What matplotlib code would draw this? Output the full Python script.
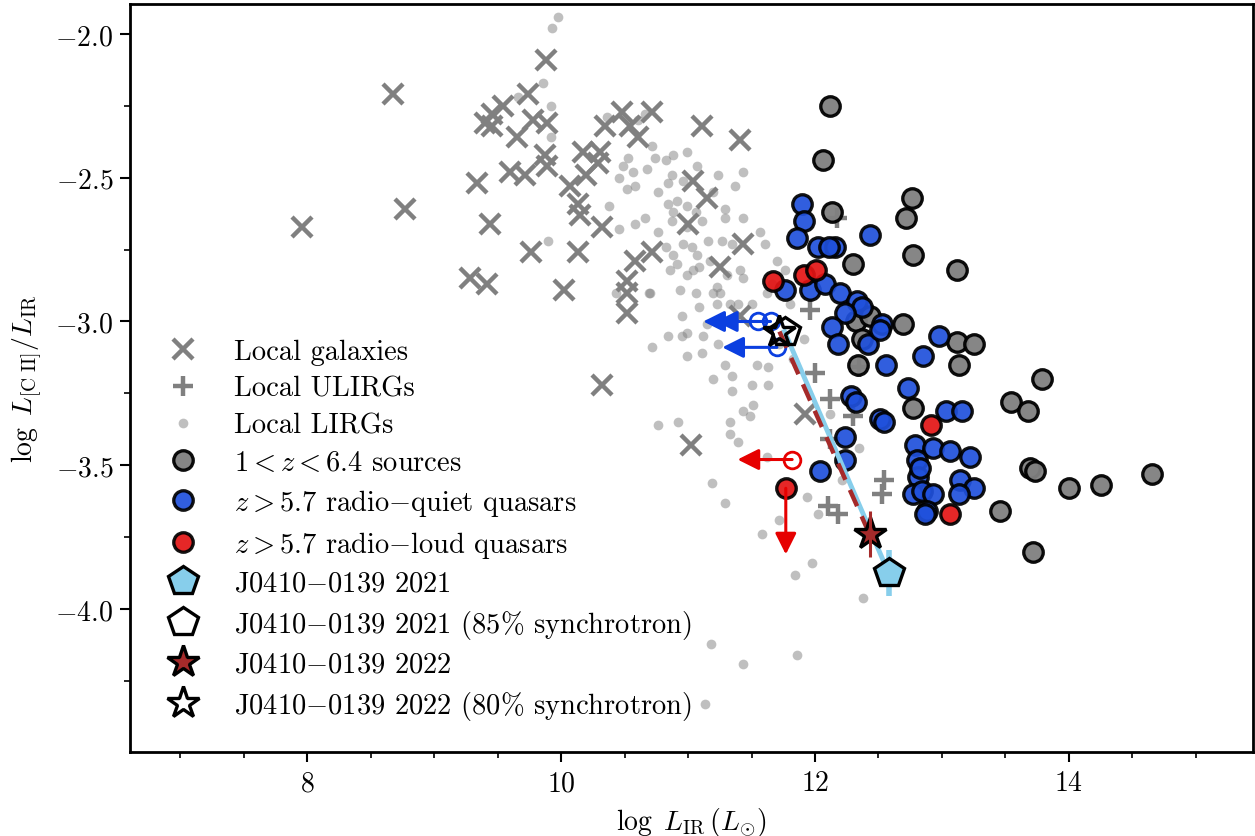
import numpy as np
import matplotlib
matplotlib.use('Agg')
from matplotlib import pyplot as plt
from matplotlib.ticker import MultipleLocator

plt.rcParams['font.family'] = 'serif'
plt.rcParams['font.serif'] = ['cmr10']
plt.rcParams['mathtext.fontset'] = 'cm'
plt.rcParams['axes.formatter.use_mathtext'] = True
plt.rcParams['font.size'] = 18

# local galaxies (x markers)
gal_lir = [8.68, 7.96, 8.77, 9.34, 9.44, 9.28, 9.42, 9.76, 9.88, 9.74, 9.54, 9.46,
           9.40, 9.46, 9.65, 9.78, 9.60, 9.72, 9.87, 9.89, 9.89, 10.17, 10.31, 10.48,
           10.72, 10.35, 10.61, 10.54, 10.20, 10.29, 10.07, 10.13, 10.15, 10.32, 10.13,
           10.02, 11.11, 11.41, 11.04, 11.15, 11.00, 11.43, 10.72, 10.58, 10.52, 10.52,
           10.52, 11.25, 10.32, 11.02, 11.92, 11.41]
gal_ratio = [-2.21, -2.67, -2.61, -2.52, -2.66, -2.85, -2.87, -2.76, -2.09, -2.21, -2.25,
             -2.28, -2.31, -2.32, -2.36, -2.30, -2.48, -2.49, -2.42, -2.46, -2.31, -2.41,
             -2.41, -2.27, -2.27, -2.32, -2.36, -2.32, -2.49, -2.45, -2.53, -2.59, -2.63,
             -2.67, -2.76, -2.89, -2.32, -2.37, -2.51, -2.57, -2.66, -2.73, -2.76, -2.79,
             -2.86, -2.90, -2.97, -2.81, -3.22, -3.43, -3.32, -2.98]

# local ULIRGs (+ markers)
ulirg_lir = [12.17, 11.96, 12.00, 12.12, 12.30, 12.12, 12.54, 12.53, 12.10, 12.18, 12.35]
ulirg_ratio = [-2.64, -2.96, -3.18, -3.27, -3.33, -3.41, -3.55, -3.60, -3.64, -3.67, -3.16]

# local LIRGs (small dots)
lirg_lir = [9.98, 9.93, 9.86, 9.92, 9.92, 9.66, 10.36, 10.61, 10.66, 10.72, 10.74, 10.53,
            10.49, 10.57, 10.46, 10.68, 10.52, 10.58, 10.83, 10.88, 10.99, 11.07, 10.87,
            10.84, 10.96, 11.24, 11.43, 11.37, 11.20, 10.76, 10.38, 10.84, 10.91, 10.99,
            10.88, 11.06, 11.11, 11.29, 11.29, 11.43, 10.66, 10.58, 10.46, 10.76, 10.87,
            10.99, 11.57, 11.61, 11.70, 9.90, 11.16, 11.27, 11.35, 10.96, 11.03, 10.83,
            10.88, 10.91, 11.07, 11.09, 11.17, 10.86, 10.99, 11.04, 11.41, 11.31, 11.43,
            10.94, 11.06, 11.23, 11.25, 10.70, 10.43, 10.69, 11.20, 11.62, 11.33, 11.23,
            11.09, 10.95, 11.39, 11.50, 10.72, 10.84, 10.95, 10.99, 11.12, 11.15, 10.99,
            11.11, 11.24, 11.29, 11.35, 11.54, 11.63, 11.20, 11.50, 11.63, 11.35, 11.51,
            11.43, 11.49, 10.76, 10.92, 11.33, 11.33, 11.39, 11.62, 11.91, 11.83, 11.72,
            11.19, 11.29, 11.72, 11.58, 11.94, 12.02, 11.98, 11.84, 12.38, 11.18, 11.86,
            11.43, 11.13, 12.35, 12.21, 12.12, 11.66, 11.80, 11.76]
lirg_ratio = [-1.94, -1.98, -2.17, -2.25, -2.36, -2.22, -2.29, -2.30, -2.28, -2.39, -2.43,
              -2.43, -2.46, -2.48, -2.50, -2.47, -2.54, -2.53, -2.44, -2.42, -2.41, -2.46,
              -2.49, -2.52, -2.51, -2.49, -2.48, -2.53, -2.55, -2.55, -2.60, -2.59, -2.58,
              -2.60, -2.62, -2.62, -2.65, -2.61, -2.64, -2.64, -2.64, -2.66, -2.68, -2.69,
              -2.65, -2.67, -2.69, -2.73, -2.79, -2.72, -2.72, -2.72, -2.73, -2.73, -2.74,
              -2.74, -2.77, -2.80, -2.77, -2.81, -2.79, -2.82, -2.84, -2.82, -2.82, -2.84,
              -2.85, -2.89, -2.90, -2.88, -2.90, -2.90, -2.90, -2.90, -2.90, -2.90, -2.94,
              -2.94, -2.95, -2.98, -2.94, -2.94, -3.09, -3.05, -3.05, -3.04, -3.05, -3.01,
              -3.12, -3.11, -3.08, -3.15, -3.19, -3.15, -3.16, -3.20, -3.22, -3.22, -3.24,
              -3.29, -3.31, -3.33, -3.36, -3.35, -3.35, -3.39, -3.42, -3.47, -3.06, -3.13,
              -3.08, -3.56, -3.63, -3.69, -3.74, -3.61, -3.67, -3.84, -3.88, -3.96, -4.12,
              -4.16, -4.19, -4.33, -3.44, -3.55, -3.32, -2.87, -2.94, -2.82]

# 1 < z < 6.4 sources
hz_lir = [12.12, 12.06, 12.13, 12.30, 12.32, 12.76, 12.72, 12.77, 13.12, 12.69, 13.12,
          13.25, 13.13, 13.79, 12.77, 13.54, 13.68, 13.69, 13.73, 14.00, 14.25, 14.65,
          13.46, 13.72, 12.34, 12.43, 12.37]
hz_ratio = [-2.25, -2.44, -2.62, -2.80, -3.00, -2.57, -2.64, -2.77, -2.82, -3.01, -3.07,
            -3.08, -3.15, -3.20, -3.30, -3.28, -3.31, -3.51, -3.52, -3.58, -3.57, -3.53,
            -3.66, -3.80, -3.15, -2.98, -3.06]

# z > 5.7 radio-quiet quasars
rq_lir = [11.90, 11.91, 11.86, 12.02, 12.16, 12.11, 12.43, 11.76, 11.96, 12.08, 12.20,
          12.33, 12.37, 12.24, 12.13, 12.53, 12.18, 12.42, 12.51, 12.56, 12.73, 12.28,
          12.32, 12.51, 12.54, 12.24, 12.24, 12.04, 12.98, 12.85, 13.03, 13.16, 12.79,
          12.93, 13.06, 13.22, 12.80, 12.81, 13.14, 13.25, 13.13, 12.77, 12.84, 12.93,
          12.88, 12.87, 12.83]
rq_ratio = [-2.59, -2.65, -2.71, -2.74, -2.74, -2.74, -2.70, -2.89, -2.89, -2.87, -2.90,
            -2.93, -2.95, -2.97, -3.02, -3.01, -3.08, -3.08, -3.03, -3.15, -3.23, -3.26,
            -3.28, -3.34, -3.35, -3.40, -3.48, -3.52, -3.05, -3.12, -3.31, -3.31, -3.43,
            -3.44, -3.45, -3.47, -3.48, -3.54, -3.55, -3.58, -3.60, -3.60, -3.59, -3.60,
            -3.66, -3.67, -3.51]

# z > 5.7 radio-loud quasars
rl_lir = [11.67, 11.91, 12.01, 12.91, 13.06]
rl_ratio = [-2.86, -2.84, -2.82, -3.36, -3.67]

# upper limits in L_IR (open circles)
rq_lim_lir = [11.55, 11.65, 11.70]
rq_lim_ratio = [-3.00, -3.00, -3.09]
rl_lim_lir = [11.82]
rl_lim_ratio = [-3.48]
# radio-loud quasar with upper limit on the ratio
rl_ylim_lir = [11.77]
rl_ylim_ratio = [-3.58]

# J0410-0139
j21_lir, j21_ratio, j21_err = 12.58, -3.875, 0.08
j21s_lir, j21s_ratio = 11.76, -3.035
j22_lir, j22_ratio, j22_err = 12.43, -3.74, 0.08
j22s_lir, j22s_ratio = 11.72, -3.035

blue = '#1f50dc'
red = '#e31414'

fig = plt.figure(figsize=(12.55, 8.37), dpi=100)
ax = fig.add_axes([0.1036, 0.1004, 0.8948, 0.8936])

ax.plot(lirg_lir, lirg_ratio, 'o', color='gray', alpha=0.5, ms=7, mew=0,
        label='Local LIRGs', zorder=1)
ax.plot(gal_lir, gal_ratio, 'x', color='gray', ms=14, mew=3.2,
        label='Local galaxies', zorder=2)
ax.plot(ulirg_lir, ulirg_ratio, '+', color='gray', ms=15, mew=3.2,
        label='Local ULIRGs', zorder=2)
ax.plot(hz_lir, hz_ratio, 'o', mfc='gray', mec='k', ms=14, mew=2.4, alpha=0.95,
        label=r'$1 < z < 6.4$ sources', zorder=3)
ax.plot(rq_lir, rq_ratio, 'o', mfc=blue, mec='k', ms=14, mew=2.4, alpha=0.92,
        label=r'$z > 5.7$ radio$-$quiet quasars', zorder=4)
ax.plot(rl_lir + rl_ylim_lir, rl_ratio + rl_ylim_ratio, 'o', mfc=red, mec='k', ms=14,
        mew=2.4, alpha=0.92, label=r'$z > 5.7$ radio$-$loud quasars', zorder=5)

# limits
ax.plot(rq_lim_lir, rq_lim_ratio, 'o', mfc='none', mec='#0b3fe0', ms=12, mew=2, zorder=5)
for x, y in zip(rq_lim_lir, rq_lim_ratio):
    ax.annotate('', xy=(x - 0.43, y), xytext=(x, y), zorder=5,
                arrowprops=dict(arrowstyle='-|>', color='#0b3fe0', lw=2.2,
                                mutation_scale=32, shrinkA=0, shrinkB=0))
ax.plot(rl_lim_lir, rl_lim_ratio, 'o', mfc='none', mec='#e60000', ms=12, mew=2, zorder=5)
for x, y in zip(rl_lim_lir, rl_lim_ratio):
    ax.annotate('', xy=(x - 0.43, y), xytext=(x, y), zorder=5,
                arrowprops=dict(arrowstyle='-|>', color='#e60000', lw=2.2,
                                mutation_scale=32, shrinkA=0, shrinkB=0))
for x, y in zip(rl_ylim_lir, rl_ylim_ratio):
    ax.annotate('', xy=(x, y - 0.23), xytext=(x, y), zorder=6,
                arrowprops=dict(arrowstyle='-|>', color='#e60000', lw=2.2,
                                mutation_scale=32, shrinkA=0, shrinkB=0))

# J0410-0139 tracks
ax.plot([j21s_lir, j21_lir], [j21s_ratio, j21_ratio], '-', color='skyblue', lw=3.5, zorder=7)
ax.plot([j22s_lir, j22_lir], [j22s_ratio, j22_ratio], '--', color='brown', lw=3.2,
        dashes=(4, 2.5), zorder=8)
ax.errorbar([j21_lir], [j21_ratio], yerr=[j21_err], fmt='none', ecolor='skyblue',
            elinewidth=4, zorder=9)
ax.plot([j21_lir], [j21_ratio], 'p', mfc='skyblue', mec='k', ms=22, mew=2.4,
        label=r'J0410$-$0139 2021', zorder=9)
ax.plot([j21s_lir], [j21s_ratio], 'p', mfc='none', mec='k', ms=22, mew=2.4, zorder=9)
ax.plot([j22_lir], [j22_ratio], '*', mfc='brown', mec='k', ms=24, mew=2.4, zorder=10)
ax.errorbar([j22_lir], [j22_ratio], yerr=[j22_err], fmt='none', ecolor='brown',
            elinewidth=2.2, zorder=11)
ax.plot([j22s_lir], [j22s_ratio], '*', mfc='none', mec='k', ms=24, mew=2.4, zorder=10)

# legend handles
h_open_p, = ax.plot([], [], 'p', mfc='white', mec='k', ms=22, mew=2.4)
h_star, = ax.plot([], [], '*', mfc='brown', mec='k', ms=24, mew=2.4)
h_open_s, = ax.plot([], [], '*', mfc='white', mec='k', ms=24, mew=2.4)

handles, labels = ax.get_legend_handles_labels()
order = ['Local galaxies', 'Local ULIRGs', 'Local LIRGs', r'$1 < z < 6.4$ sources',
         r'$z > 5.7$ radio$-$quiet quasars', r'$z > 5.7$ radio$-$loud quasars',
         r'J0410$-$0139 2021']
hs = [handles[labels.index(l)] for l in order]
hs += [h_open_p, h_star, h_open_s]
ls = order + [r'J0410$-$0139 2021 (85% synchrotron)', r'J0410$-$0139 2022',
              r'J0410$-$0139 2022 (80% synchrotron)']
ax.legend(hs, ls, loc='upper left', bbox_to_anchor=(0.0285, 0.553), frameon=False,
          borderpad=0, borderaxespad=0, handlelength=1.45, handletextpad=1.08,
          labelspacing=0.38, fontsize=20.5)

ax.set_xlim(6.606, 15.449)
ax.set_ylim(-4.497, -1.896)
ax.xaxis.set_major_locator(MultipleLocator(2))
ax.xaxis.set_minor_locator(MultipleLocator(0.5))
ax.yaxis.set_major_locator(MultipleLocator(0.5))
ax.yaxis.set_minor_locator(MultipleLocator(0.25))
ax.tick_params(which='major', length=7, width=1.5, labelsize=20)
ax.tick_params(which='minor', length=4, width=1.2)
ax.tick_params(axis='x', pad=6)
ax.tick_params(axis='y', pad=5)
for s in ax.spines.values():
    s.set_linewidth(2)

ax.set_xlabel(r'$\log\ L_{\rm IR}\,(L_{\odot})$', fontsize=20, labelpad=6)
ax.set_ylabel(r'$\log\ L_{[\mathrm{C\ II}]}/L_{\mathrm{IR}}$', fontsize=20, labelpad=8)

fig.savefig('out.png', dpi=100)
